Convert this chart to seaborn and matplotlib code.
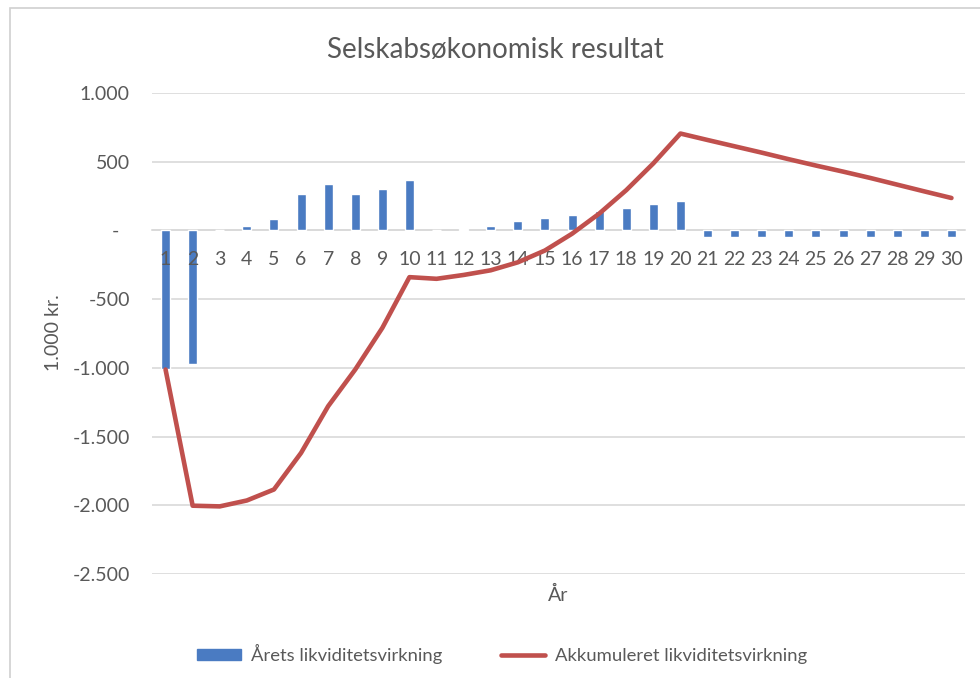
import matplotlib
matplotlib.use("Agg")
import matplotlib.pyplot as plt
import matplotlib.patches as mpatches
from matplotlib.lines import Line2D
import numpy as np
import pandas as pd
import seaborn as sns

# values (1.000 kr.)
years = list(range(1, 31))
aarets = [-1010, -972, 0, 35, 80, 265, 335, 262, 305, 365,
          0, 10, 32, 66, 88, 115, 138, 160, 192, 215,
          -46, -46, -46, -46, -46, -46, -46, -46, -46, -46]
akkumuleret = [-1012, -2003, -2008, -1965, -1885, -1619, -1279, -1012, -709, -340,
               -352, -324, -290, -232, -146, -24, 122, 293, 488, 705,
               658, 612, 566, 518, 472, 428, 382, 333, 284, 236]
y_ticks = [1000, 500, 0, -500, -1000, -1500, -2000, -2500]
y_labels = ["1.000", "500", "-  ", "-500", "-1.000", "-1.500", "-2.000", "-2.500"]

BAR_COLOR = "#4A7BC2"
LINE_COLOR = "#C0504D"
TEXT_COLOR = "#595959"
GRID_COLOR = "#D9D9D9"

sns.set_theme(style="white")
plt.rcParams["font.family"] = ["Lato", "DejaVu Sans"]

W, H = 980, 678
fig = plt.figure(figsize=(W / 100, H / 100), dpi=100)
ax = fig.add_axes([152 / W, 1 - 574 / H, 813 / W, 481 / H])

df = pd.DataFrame({"År": years, "Årets": aarets})
sns.barplot(data=df, x="År", y="Årets", color=BAR_COLOR, width=0.33,
            saturation=1, ax=ax, zorder=2)
sns.lineplot(x=np.arange(len(years)), y=akkumuleret, color=LINE_COLOR,
             linewidth=3.3, ax=ax, zorder=3)

ax.set_xlim(-0.5, len(years) - 0.5)
ax.set_ylim(-2500, 1000)
ax.set_yticks(y_ticks)
ax.set_yticklabels(y_labels)
ax.yaxis.grid(True, color=GRID_COLOR, linewidth=1.2)
ax.set_axisbelow(True)
# year labels sit on top of the bars, like in Excel
ax.xaxis.set_zorder(2.5)
for side in ["top", "right", "left"]:
    ax.spines[side].set_visible(False)
ax.spines["bottom"].set_position(("data", 0))
ax.spines["bottom"].set_color(GRID_COLOR)
ax.spines["bottom"].set_linewidth(1.2)
ax.spines["bottom"].set_zorder(1)
ax.tick_params(axis="x", length=0, pad=15, labelsize=14, labelcolor=TEXT_COLOR)
ax.tick_params(axis="y", length=0, pad=16, labelsize=14, labelcolor=TEXT_COLOR)
ax.set_xlabel("")
ax.set_ylabel("")

fig.text(495 / W, 1 - 50 / H, "Selskabsøkonomisk resultat", ha="center",
         va="center", fontsize=20, color=TEXT_COLOR)
fig.text(53 / W, 1 - 333 / H, "1.000 kr.", rotation=90, ha="center",
         va="center", fontsize=14, color=TEXT_COLOR)
fig.text(558 / W, 1 - 595 / H, "År", ha="center", va="center",
         fontsize=14, color=TEXT_COLOR)

handles = [mpatches.Patch(color=BAR_COLOR, label="Årets likviditetsvirkning"),
           Line2D([0], [0], color=LINE_COLOR, linewidth=3.3,
                  label="Akkumuleret likviditetsvirkning")]
leg = fig.legend(handles=handles, loc="center", bbox_to_anchor=(502 / W, 1 - 654 / H),
                 ncol=2, frameon=False, fontsize=13.3, handlelength=2.4,
                 handleheight=0.5, columnspacing=3.2, handletextpad=0.5)
for t in leg.get_texts():
    t.set_color(TEXT_COLOR)

# chart frame
fig.patches.append(mpatches.Rectangle((10 / W, -0.05), 1.0, 1 - 8 / H + 0.05,
                                      transform=fig.transFigure, fill=False,
                                      edgecolor="#D0D0D0", linewidth=1.2))

fig.savefig("out.png", dpi=100)
